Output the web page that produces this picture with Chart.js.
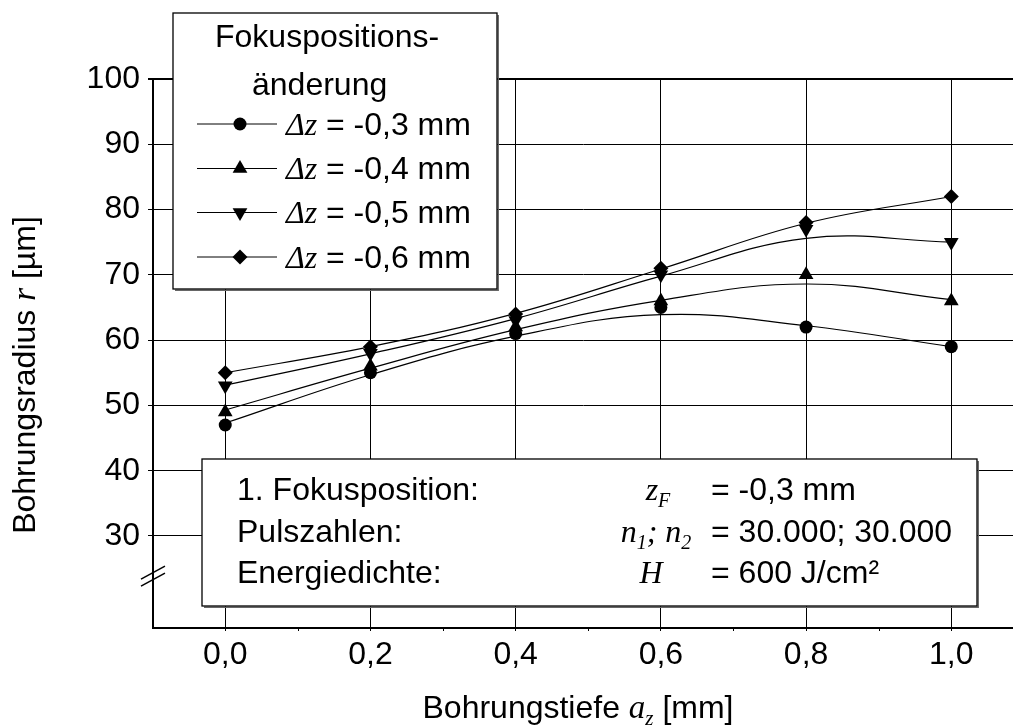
<!DOCTYPE html>
<html>
<head>
<meta charset="utf-8">
<script src="https://cdn.jsdelivr.net/npm/chart.js@4.4.1/dist/chart.umd.min.js"></script>
<style>
  html, body { margin: 0; padding: 0; background: #fff; overflow: hidden; }
  #wrap { position: relative; width: 1013px; height: 727px; }
  canvas { display: block; }
</style>
</head>
<body>
<div id="wrap"><canvas id="chart" width="1013" height="727"></canvas></div>
<script>
// Bohrungstiefe a_z in mm
const depthMm = [0.0, 0.2, 0.4, 0.6, 0.8, 1.0];
// Fokuspositionsänderung Δz in mm
const shiftLabels = ['-0,3', '-0,4', '-0,5', '-0,6'];
// gemessene Bohrungsradien r in µm
const radiusShift03 = [47, 55, 61, 65, 62, 59];
const radiusShift04 = [49, 56, 62, 66, 70, 66];
const radiusShift05 = [53, 58, 63, 70, 77, 75];
const radiusShift06 = [55, 59, 64, 71, 78, 82];
// geglättete Verläufe (Trendkurven) in µm
const trendShift03 = [47.3, 54.7, 60.6, 63.9, 62.2, 59.0];
const trendShift04 = [49.3, 55.7, 61.6, 66.1, 68.6, 66.2];
const trendShift05 = [53.1, 57.9, 63.3, 69.8, 75.6, 75.0];
const trendShift06 = [55.0, 59.0, 64.1, 70.9, 77.9, 82.0];
// Achsenteilung
const xTickValues = [0.0, 0.2, 0.4, 0.6, 0.8, 1.0];
const xMinorTickValues = [0.1, 0.3, 0.5, 0.7, 0.9];
const yTickValues = [30, 40, 50, 60, 70, 80, 90, 100];
const yBreakValue = 24;

const SANS = "'Liberation Sans', Arial, Helvetica, sans-serif";
const SERIF = "'Liberation Serif', 'Times New Roman', serif";
const FS = 32;

const markerStyles = [
  { pointStyle: 'circle', rotation: 0, radius: 6.5 },
  { pointStyle: 'triangle', rotation: 0, radius: 8.5 },
  { pointStyle: 'triangle', rotation: 180, radius: 8.5 },
  { pointStyle: 'rectRot', rotation: 0, radius: 7.5 }
];
const radiusSeries = [radiusShift03, radiusShift04, radiusShift05, radiusShift06];
const trendSeries = [trendShift03, trendShift04, trendShift05, trendShift06];

const datasets = [];
trendSeries.forEach((vals, i) => {
  datasets.push({
    label: 'Trend Δz = ' + shiftLabels[i] + ' mm',
    data: depthMm.map((x, j) => ({ x: x, y: vals[j] })),
    borderColor: '#000',
    borderWidth: 1.2,
    pointRadius: 0,
    tension: 0.4,
    fill: false,
    order: 2
  });
});
radiusSeries.forEach((vals, i) => {
  const m = markerStyles[i];
  datasets.push({
    label: 'Δz = ' + shiftLabels[i] + ' mm',
    data: depthMm.map((x, j) => ({ x: x, y: vals[j] })),
    showLine: false,
    pointStyle: m.pointStyle,
    rotation: m.rotation,
    pointRadius: m.radius,
    pointBackgroundColor: '#000',
    pointBorderColor: '#000',
    pointBorderWidth: 0,
    order: 1
  });
});

// draw a sequence of text runs with individual fonts on one baseline
function runsWidth(ctx, runs) {
  let w = 0;
  runs.forEach(r => { ctx.font = r.font; w += ctx.measureText(r.text).width; });
  return w;
}
function drawRuns(ctx, runs, x, y, align) {
  let cx = x;
  if (align === 'center') cx = x - runsWidth(ctx, runs) / 2;
  ctx.textAlign = 'left';
  ctx.textBaseline = 'alphabetic';
  runs.forEach(r => {
    ctx.font = r.font;
    ctx.fillText(r.text, cx, y + (r.dy || 0));
    cx += ctx.measureText(r.text).width;
  });
}
function marker(ctx, style, x, y) {
  ctx.save();
  ctx.fillStyle = '#000';
  ctx.strokeStyle = '#000';
  if (Chart.helpers && Chart.helpers.drawPoint) {
    Chart.helpers.drawPoint(ctx, { pointStyle: style.pointStyle, rotation: style.rotation, radius: style.radius, borderWidth: 0 }, x, y);
  }
  ctx.restore();
}
function box(ctx, x, y, w, h) {
  ctx.save();
  ctx.fillStyle = '#fff';
  ctx.fillRect(x, y, w, h);
  ctx.strokeStyle = '#666';
  ctx.lineWidth = 1.5;
  ctx.beginPath();
  ctx.moveTo(x + w + 1.2, y + 2);
  ctx.lineTo(x + w + 1.2, y + h + 1.2);
  ctx.lineTo(x + 2, y + h + 1.2);
  ctx.stroke();
  ctx.strokeStyle = '#000';
  ctx.lineWidth = 1.3;
  ctx.strokeRect(x, y, w, h);
  ctx.restore();
}

const decorations = {
  id: 'decorations',
  afterDraw(chart) {
    const ctx = chart.ctx;
    const xs = chart.scales.x, ys = chart.scales.y;
    const area = chart.chartArea;
    ctx.save();

    // minor ticks on the depth axis
    ctx.strokeStyle = '#000';
    ctx.lineWidth = 1;
    xMinorTickValues.forEach(v => {
      const px = Math.round(xs.getPixelForValue(v)) + 0.5;
      ctx.beginPath();
      ctx.moveTo(px, area.bottom);
      ctx.lineTo(px, area.bottom + 3);
      ctx.stroke();
    });

    // axis break marks
    const by = ys.getPixelForValue(yBreakValue);
    ctx.lineWidth = 1.5;
    [-3, 4].forEach(o => {
      ctx.beginPath();
      ctx.moveTo(area.left - 12, by + 7 + o);
      ctx.lineTo(area.left + 12, by - 6 + o);
      ctx.stroke();
    });

    // legend
    box(ctx, 173, 13, 324, 276);
    ctx.fillStyle = '#000';
    drawRuns(ctx, [{ text: 'Fokuspositions-', font: FS + 'px ' + SANS }], 215, 47);
    drawRuns(ctx, [{ text: 'änderung', font: FS + 'px ' + SANS }], 252, 95);
    const rowY = [123.5, 168, 212, 256.5];
    shiftLabels.forEach((lab, i) => {
      const y = rowY[i];
      ctx.strokeStyle = '#000';
      ctx.lineWidth = 1;
      ctx.beginPath();
      ctx.moveTo(197, y + 0.5);
      ctx.lineTo(277, y + 0.5);
      ctx.stroke();
      marker(ctx, markerStyles[i], 240, y + 0.5);
      ctx.fillStyle = '#000';
      drawRuns(ctx, [{ text: 'Δz', font: 'italic ' + FS + 'px ' + SERIF }], 286, y + 11);
      drawRuns(ctx, [{ text: '= ' + lab + ' mm', font: FS + 'px ' + SANS }], 326, y + 11);
    });

    // process parameters
    box(ctx, 202, 459, 775, 147);
    ctx.fillStyle = '#000';
    const infoY = [500, 542, 583];
    const lbl = FS + 'px ' + SANS;
    const it = 'italic ' + FS + 'px ' + SERIF;
    const sub = 'italic 20px ' + SERIF;
    drawRuns(ctx, [{ text: '1. Fokusposition:', font: lbl }], 237, infoY[0]);
    drawRuns(ctx, [{ text: 'Pulszahlen:', font: lbl }], 237, infoY[1]);
    drawRuns(ctx, [{ text: 'Energiedichte:', font: lbl }], 237, infoY[2]);
    drawRuns(ctx, [{ text: 'z', font: it }, { text: 'F', font: sub, dy: 7 }], 658, infoY[0], 'center');
    drawRuns(ctx, [{ text: 'n', font: it }, { text: '1', font: sub, dy: 7 }, { text: '; n', font: it }, { text: '2', font: sub, dy: 7 }], 656, infoY[1], 'center');
    drawRuns(ctx, [{ text: 'H', font: it }], 651, infoY[2], 'center');
    drawRuns(ctx, [{ text: '= -0,3 mm', font: lbl }], 711, infoY[0]);
    drawRuns(ctx, [{ text: '= 30.000; 30.000', font: lbl }], 711, infoY[1]);
    drawRuns(ctx, [{ text: '= 600 J/cm²', font: lbl }], 711, infoY[2]);

    // axis titles
    drawRuns(ctx, [
      { text: 'Bohrungstiefe ', font: lbl },
      { text: 'a', font: 'italic 33px ' + SERIF },
      { text: 'z', font: 'italic 21px ' + SERIF, dy: 7 },
      { text: ' [mm]', font: lbl }
    ], 578, 718, 'center');

    ctx.save();
    ctx.translate(35, 375);
    ctx.rotate(-Math.PI / 2);
    drawRuns(ctx, [
      { text: 'Bohrungsradius ', font: lbl },
      { text: 'r', font: 'italic 33px ' + SERIF },
      { text: ' [µm]', font: lbl }
    ], 0, 0, 'center');
    ctx.restore();

    ctx.restore();
  }
};

Chart.defaults.font.family = SANS;
Chart.defaults.color = '#000';

new Chart(document.getElementById('chart'), {
  type: 'line',
  data: { datasets: datasets },
  plugins: [decorations],
  options: {
    responsive: false,
    devicePixelRatio: 1,
    animation: false,
    events: [],
    layout: { autoPadding: false, padding: { top: 79, right: 0, bottom: 0, left: 0 } },
    plugins: { legend: { display: false }, tooltip: { enabled: false }, title: { display: false } },
    scales: {
      x: {
        type: 'linear',
        min: -0.0995,
        max: 1.085,
        afterBuildTicks: s => { s.ticks = xTickValues.map(v => ({ value: v })); },
        afterFit: s => { s.height = 99; s.paddingLeft = 0; s.paddingRight = 0; },
        grid: { color: '#000', lineWidth: 1, tickLength: 3, tickColor: '#000' },
        border: { color: '#000', width: 2 },
        ticks: {
          font: { size: FS, family: SANS },
          color: '#000',
          padding: 5,
          maxRotation: 0,
          autoSkip: false,
          callback: v => Number(v).toFixed(1).replace('.', ',')
        }
      },
      y: {
        type: 'linear',
        min: 15.9,
        max: 100,
        afterBuildTicks: s => { s.ticks = yTickValues.map(v => ({ value: v })); },
        afterFit: s => { s.width = 153; },
        grid: {
          color: '#000',
          lineWidth: c => (c.tick && c.tick.value === 100 ? 2 : 1),
          tickLength: 5,
          tickColor: '#000'
        },
        border: { color: '#000', width: 2 },
        ticks: {
          font: { size: FS, family: SANS },
          color: '#000',
          padding: 8,
          autoSkip: false,
          callback: v => String(v)
        }
      }
    }
  }
});
</script>
</body>
</html>
